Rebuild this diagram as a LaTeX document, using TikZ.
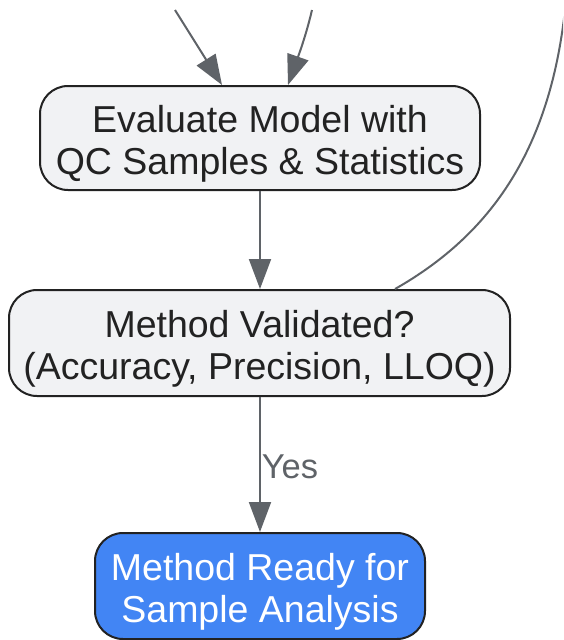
\documentclass[tikz,border=0pt]{standalone}
\usepackage{fontspec}
\setmainfont{Liberation Sans}
\usetikzlibrary{arrows.meta}
\definecolor{boxfill}{HTML}{F1F2F4}
\definecolor{boxline}{HTML}{222222}
\definecolor{edgecol}{HTML}{5F6368}
\definecolor{bluefill}{HTML}{4285F4}
\definecolor{txt}{HTML}{222222}
\newcommand{\topstrut}{\rule{0pt}{38pt}}
\tikzset{
  flowbox/.style={draw=boxline, line width=2pt, fill=boxfill, rounded corners=28pt,
    align=center, inner sep=0pt, text=txt,
    font=\fontsize{37.5}{42}\selectfont},
  bluebox/.style={flowbox, fill=bluefill, text=white},
  edge/.style={draw=edgecol, line width=2pt, -{Triangle[length=30pt,width=22pt]}},
  plain/.style={draw=edgecol, line width=2pt},
  lbl/.style={text=edgecol, font=\fontsize{34.5}{40}\selectfont, inner sep=0pt}
}
\begin{document}
\begin{tikzpicture}[x=1pt,y=-1pt]
\useasboundingbox (0,0) rectangle (563,640);
\clip (0,0) rectangle (563,640);
\node[flowbox, minimum width=440pt, minimum height=104pt] (eval) at (260,138)
  {\topstrut Evaluate Model with\\QC Samples \& Statistics};
\node[flowbox, minimum width=501pt, minimum height=106pt] (valid) at (259.5,343)
  {\topstrut Method Validated?\\(Accuracy, Precision, LLOQ)};
\node[bluebox, minimum width=330pt, minimum height=106pt] (ready) at (260,586)
  {\topstrut Method Ready for\\Sample Analysis};
\coordinate (inA) at (175,10);
\coordinate (inB) at (312,10);
\coordinate (outC) at (566,0);
\draw[edge] (inA) -- (eval.north -| 222,0);
\draw[edge] (inB) .. controls (305,40) and (295,65) .. (eval.north -| 288,0);
\draw[plain] (valid.north -| 395,0) .. controls (490,235) and (552,150) .. (outC);
\draw[edge] (eval.south -| 260,0) -- (valid.north -| 260,0);
\draw[edge] (valid.south -| 260,0) -- (ready.north -| 260,0);
\node[lbl] (yes) at (290,467) {Yes};
\end{tikzpicture}
\end{document}
